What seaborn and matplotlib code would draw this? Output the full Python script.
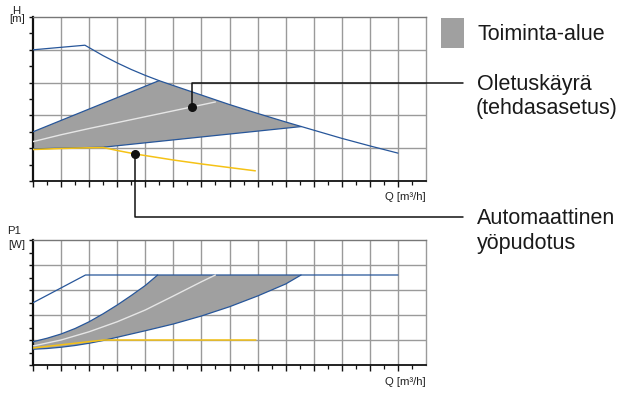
import numpy as np
import matplotlib
matplotlib.use("Agg")
import matplotlib.pyplot as plt
from matplotlib.lines import Line2D
from matplotlib.patches import Rectangle
import seaborn as sns

sns.set_theme(style="white")
plt.rcParams["font.family"] = ["Liberation Sans", "DejaVu Sans"]

# ---- Head curve H(Q) ----
h_max_q = [0, 1.85, 2.5, 3, 3.5, 4, 4.49, 5, 6, 7, 8, 9, 9.56, 10, 11, 12, 13]
h_max = [4.0, 4.14, 3.82, 3.60, 3.40, 3.22, 3.06, 2.91, 2.62, 2.33, 2.06, 1.80, 1.66, 1.55, 1.30, 1.07, 0.85]

h_area_top_q = [0, 4.49, 5, 6, 7, 8, 9, 9.56]
h_area_top = [1.50, 3.06, 2.91, 2.62, 2.33, 2.06, 1.80, 1.66]
h_area_low_q = [0, 2.5, 9.56]
h_area_low = [0.98, 1.03, 1.66]

h_default_q = [0, 1, 2, 3, 4, 5, 6, 6.5]
h_default = [1.20, 1.41, 1.60, 1.78, 1.96, 2.14, 2.32, 2.41]

h_night_q = [0, 1, 1.85, 2.5, 3, 3.67, 5, 6, 7, 7.92]
h_night = [0.96, 0.99, 1.01, 1.02, 0.93, 0.82, 0.64, 0.52, 0.41, 0.31]

# ---- Power curve P1(Q) ----
p_max_q = [0, 1.87, 13]
p_max = [2.49, 3.6, 3.6]

p_area_top_q = [0, 0.5, 1, 1.5, 2, 2.5, 3, 3.5, 4, 4.44, 9.55]
p_area_top = [0.93, 1.07, 1.24, 1.46, 1.73, 2.05, 2.40, 2.78, 3.18, 3.6, 3.6]
p_area_low_q = [0, 0.5, 1, 1.5, 2, 2.5, 3, 4, 5, 6, 7, 8, 9, 9.55]
p_area_low = [0.63, 0.66, 0.71, 0.78, 0.87, 0.98, 1.11, 1.37, 1.64, 1.96, 2.33, 2.76, 3.24, 3.6]

p_default_q = [0, 1, 2, 3, 4, 5, 6, 6.5]
p_default = [0.76, 1.0, 1.33, 1.73, 2.2, 2.76, 3.33, 3.6]

p_night_q = [0, 2.52, 7.94]
p_night = [0.68, 1.0, 1.0]

# marker points for the callouts
default_mark = (5.67, 2.27)
night_mark = (3.64, 0.83)

legend_area = "Toiminta-alue"
legend_default = ["Oletuskäyrä", "(tehdasasetus)"]
legend_night = ["Automaattinen", "yöpudotus"]

BLUE = "#27569a"
YELLOW = "#f5c216"
AREA = "#a0a0a0"
GRID = "#9a9a9a"

W, H = 635, 394
fig = plt.figure(figsize=(W / 100, H / 100), dpi=100)


def px_rect(x0, y0, x1, y1):
    return [x0 / W, 1 - y1 / H, (x1 - x0) / W, (y1 - y0) / H]


ax_h = fig.add_axes(px_rect(33, 17, 426, 181))
ax_p = fig.add_axes(px_rect(33, 240, 426, 365))


def style_axes(ax):
    ax.set_xlim(0, 14)
    ax.set_ylim(0, 5)
    for v in range(1, 14):
        ax.axvline(v, color=GRID, lw=1.0, zorder=0)
    for v in range(1, 5):
        ax.axhline(v, color=GRID, lw=1.0, zorder=0)
    ax.spines["left"].set_color("#111111")
    ax.spines["left"].set_linewidth(1.6)
    ax.spines["bottom"].set_color("#111111")
    ax.spines["bottom"].set_linewidth(1.3)
    ax.spines["top"].set_color("#777777")
    ax.spines["top"].set_linewidth(1.0)
    ax.spines["right"].set_color(GRID)
    ax.spines["right"].set_linewidth(1.0)
    ax.set_xticks(np.arange(0, 14, 1))
    ax.set_xticks(np.arange(0.5, 14, 1), minor=True)
    ax.set_yticks(np.arange(0, 5.01, 0.5))
    ax.tick_params(axis="x", which="major", direction="out", length=4, width=1.0,
                   color="#111111", bottom=True, labelbottom=False)
    ax.tick_params(axis="x", which="minor", direction="out", length=3, width=0.9,
                   color="#111111", bottom=True)
    ax.tick_params(axis="y", direction="out", length=3, width=1.0,
                   color="#111111", left=True, labelleft=False)
    ax.set_xlabel("")
    ax.set_ylabel("")


style_axes(ax_h)
style_axes(ax_p)


def line(ax, q, v, color, lw, z):
    sns.lineplot(x=q, y=v, ax=ax, color=color, lw=lw, sort=False,
                 estimator=None, zorder=z, legend=False)


# Head chart
ax_h.fill(h_area_top_q + h_area_low_q[::-1], h_area_top + h_area_low[::-1],
          color=AREA, lw=0, zorder=1)
line(ax_h, [h_area_top_q[0], h_area_top_q[1]], [h_area_top[0], h_area_top[1]], BLUE, 0.9, 3)
line(ax_h, h_area_low_q, h_area_low, BLUE, 0.9, 3)
line(ax_h, h_max_q, h_max, BLUE, 0.9, 3)
line(ax_h, h_default_q, h_default, "#e6e6e6", 1.0, 4)
line(ax_h, h_night_q, h_night, YELLOW, 1.1, 4)

# Power chart
ax_p.fill(p_area_top_q + p_area_low_q[::-1], p_area_top + p_area_low[::-1],
          color=AREA, lw=0, zorder=1)
line(ax_p, p_area_top_q[:-1], p_area_top[:-1], BLUE, 0.9, 3)
line(ax_p, p_area_low_q, p_area_low, BLUE, 0.9, 3)
line(ax_p, p_max_q, p_max, BLUE, 0.9, 3)
line(ax_p, p_default_q, p_default, "#e6e6e6", 1.0, 4)
line(ax_p, p_night_q, p_night, YELLOW, 1.1, 4)

# Axis captions
small = dict(fontsize=8.2, color="#222222")
fig.text(16 / W, 1 - 11 / H, "H", ha="center", va="center", **small)
fig.text(25.5 / W, 1 - 19.5 / H, "[m]", ha="right", va="center", **small)
fig.text(14.5 / W, 1 - 230.5 / H, "P1", ha="center", va="center", **small)
fig.text(25.5 / W, 1 - 245.5 / H, "[W]", ha="right", va="center", **small)
fig.text(426 / W, 1 - 197 / H, "Q [m³/h]", ha="right", va="center", **small)
fig.text(426 / W, 1 - 382 / H, "Q [m³/h]", ha="right", va="center", **small)


# Callout lines from the marked points to the labels
def to_fig(ax, pt):
    return fig.transFigure.inverted().transform(ax.transData.transform(pt))


ax_h.plot(*default_mark, "o", color="#111111", ms=5.5, zorder=6)
ax_h.plot(*night_mark, "o", color="#111111", ms=5.5, zorder=6)

end_x = 463 / W
d = to_fig(ax_h, default_mark)
y1 = 1 - 83.3 / H
fig.add_artist(Line2D([d[0], d[0], end_x], [d[1], y1, y1], color="#111111", lw=1.1, zorder=10))
n = to_fig(ax_h, night_mark)
y2 = 1 - 216.7 / H
fig.add_artist(Line2D([n[0], n[0], end_x], [n[1], y2, y2], color="#111111", lw=1.1, zorder=10))

# Legend block
fig.add_artist(Rectangle((441 / W, 1 - 47.5 / H), 23 / W, 29.5 / H,
                         transform=fig.transFigure, color=AREA, lw=0))
big = dict(fontsize=15.5, color="#1a1a1a", ha="left", va="baseline")
fig.text(477 / W, 1 - 39.5 / H, legend_area, **big)
fig.text(477 / W, 1 - 90 / H, legend_default[0], **big)
fig.text(476 / W, 1 - 114 / H, legend_default[1], **big)
fig.text(477 / W, 1 - 224 / H, legend_night[0], **big)
fig.text(477 / W, 1 - 248.5 / H, legend_night[1], **big)

fig.savefig("out.png", dpi=100)
